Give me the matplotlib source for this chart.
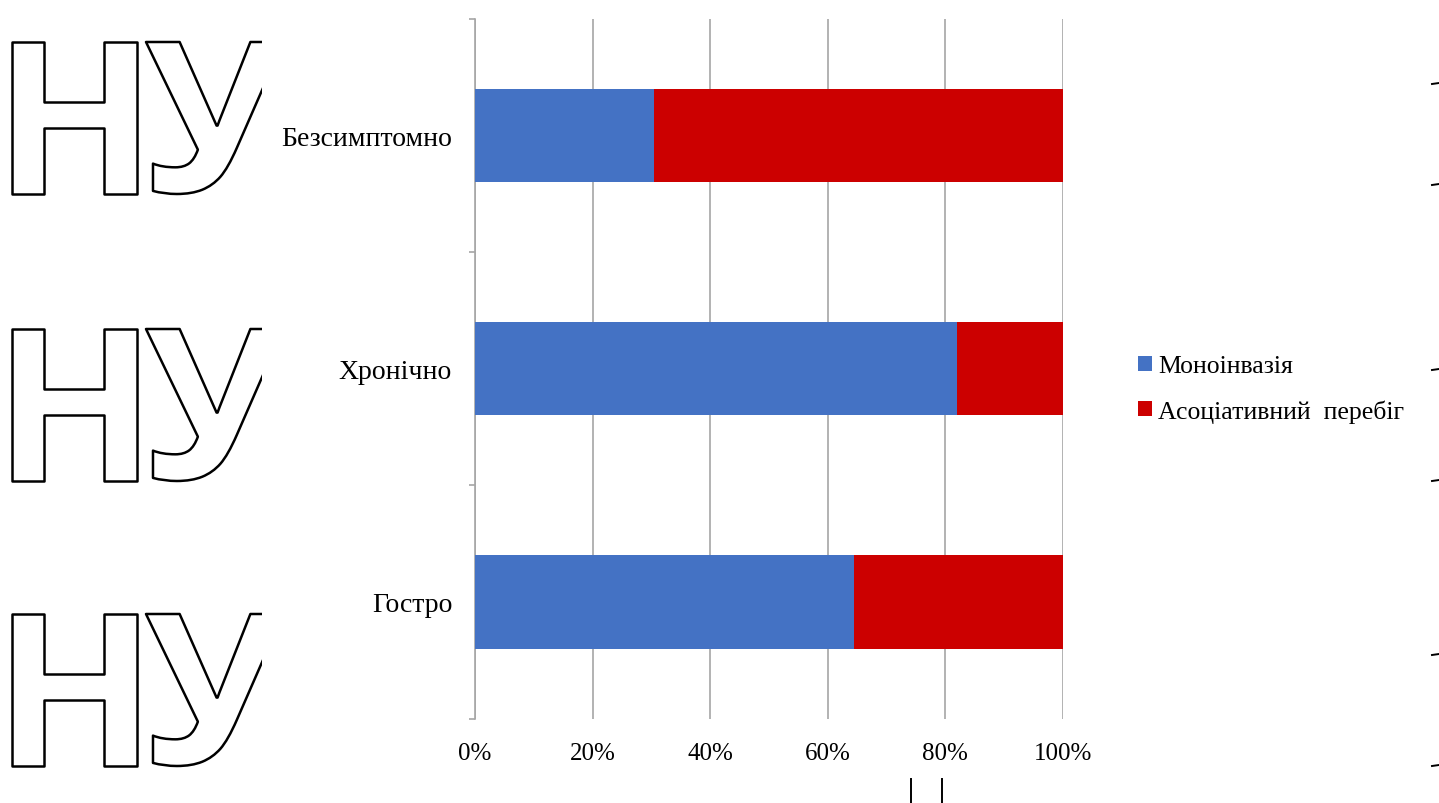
import matplotlib
matplotlib.use("Agg")
import matplotlib.pyplot as plt
from matplotlib.textpath import TextPath
from matplotlib.font_manager import FontProperties
from matplotlib.patches import PathPatch
from matplotlib.transforms import Affine2D
from matplotlib.ticker import PercentFormatter, FixedLocator
from matplotlib.lines import Line2D

plt.rcParams["font.family"] = ["Liberation Serif", "DejaVu Serif"]

# data: share of cases, %
categories = ["Гостро", "Хронічно", "Безсимптомно"]
mono = [64.4, 82.0, 30.4]
assoc = [35.6, 18.0, 69.6]
series_names = ["Моноінвазія", "Асоціативний  перебіг"]

BLUE = "#4472C4"
RED = "#CC0000"
GRID = "#A6A6A6"

W, H = 1439, 804
fig = plt.figure(figsize=(W / 100, H / 100), dpi=100)

# --- main chart --------------------------------------------------------------
ax = fig.add_axes([475 / W, 1 - 719.5 / H, (1063 - 475) / W, (719.5 - 19.5) / H])
ypos = list(range(len(categories)))
ax.barh(ypos, mono, height=0.4, color=BLUE, zorder=3, label=series_names[0])
ax.barh(ypos, assoc, left=mono, height=0.4, color=RED, zorder=3,
        label=series_names[1])

ax.set_xlim(0, 100)
ax.set_ylim(-0.5, len(categories) - 0.5)
ax.set_xticks(range(0, 101, 20))
ax.xaxis.set_major_formatter(PercentFormatter(decimals=0))
ax.set_yticks(ypos)
ax.set_yticklabels(categories)
ax.yaxis.set_minor_locator(FixedLocator([-0.5, 0.5, 1.5, 2.5]))

ax.grid(axis="x", color=GRID, linewidth=1.2, zorder=0)
ax.tick_params(axis="x", length=0, pad=17, labelsize=18)
ax.tick_params(axis="y", which="major", length=0, pad=16.5, labelsize=20)
ax.tick_params(axis="y", which="minor", length=4.5, width=1.2, color=GRID,
               direction="out")
for side in ("top", "right", "bottom"):
    ax.spines[side].set_visible(False)
ax.spines["left"].set_color(GRID)
ax.spines["left"].set_linewidth(1.2)

fig.legend(loc="center left", bbox_to_anchor=(1115 / W, 1 - 390 / H),
           frameon=False, fontsize=18.5, handlelength=0.55, handleheight=0.55,
           handletextpad=0.22, labelspacing=0.85)

# --- outlined letters on the left --------------------------------------------
wm = fig.add_axes([0, 0, 262 / W, 1])
wm.set_xlim(0, 262)
wm.set_ylim(0, H)
wm.axis("off")
fp = FontProperties(family="Open Sans", weight="bold")


def glyph(ch, x0, top, cap_h):
    tp = TextPath((0, 0), ch, size=100, prop=fp)
    ext = tp.get_extents()
    s = cap_h / ext.height
    tr = Affine2D().translate(-ext.x0, -ext.y0).scale(s).translate(x0, H - top - cap_h)
    wm.add_patch(PathPatch(tr.transform_path(tp), facecolor="white",
                           edgecolor="black", linewidth=1.8,
                           joinstyle="round", clip_on=True))


for top in (43, 330, 615):
    glyph("Н", 12, top, 152)
    glyph("У", 146, top, 152)

# --- stray marks at the page edges -------------------------------------------
for y in (84, 185, 370, 481, 655, 766):
    fig.add_artist(Line2D([1432 / W, 1439 / W], [1 - (y + 1) / H, 1 - y / H],
                          color="black", linewidth=1.4))
for x in (911, 942):
    fig.add_artist(Line2D([x / W, x / W], [0, 1 - 780 / H],
                          color="black", linewidth=1.4))

fig.savefig("out.png", dpi=100)
